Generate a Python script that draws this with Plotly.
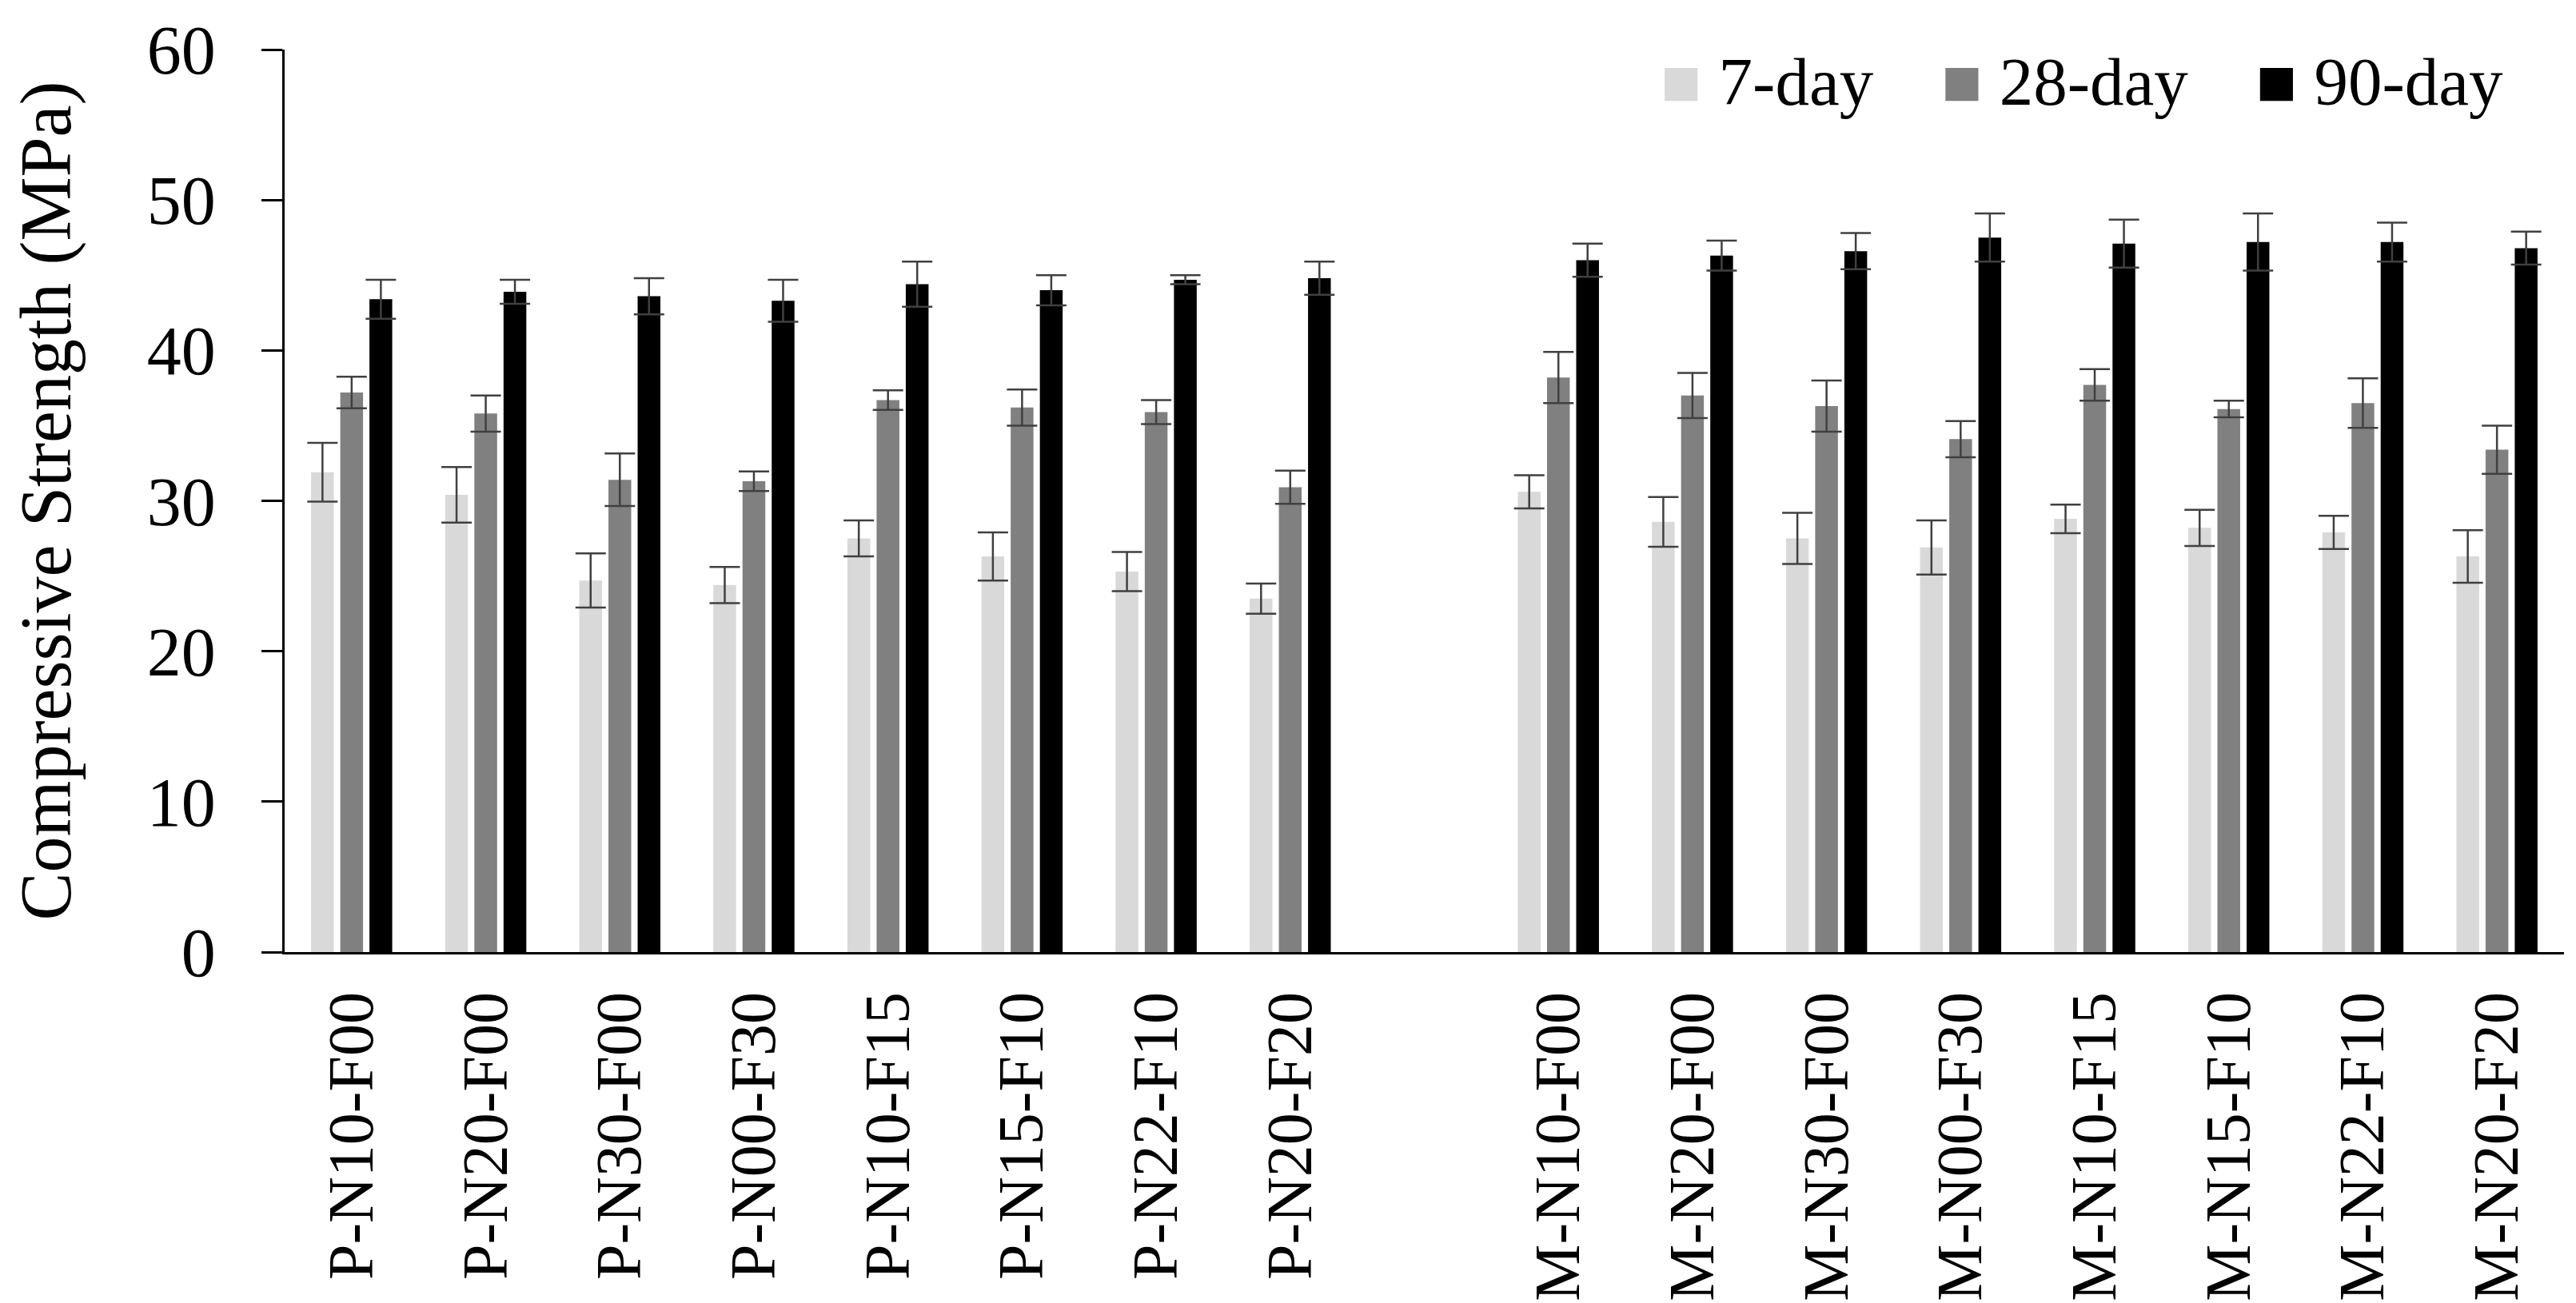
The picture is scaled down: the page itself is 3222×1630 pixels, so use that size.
import plotly.graph_objects as go

# ── Mix labels (P = one series of mixes, M = the other) ──
mixes_p = ["P-N10-F00", "P-N20-F00", "P-N30-F00", "P-N00-F30",
           "P-N10-F15", "P-N15-F10", "P-N22-F10", "P-N20-F20"]
mixes_m = ["M-N10-F00", "M-N20-F00", "M-N30-F00", "M-N00-F30",
           "M-N10-F15", "M-N15-F10", "M-N22-F10", "M-N20-F20"]
GAP = " "  # empty slot between the two groups

# ── Compressive strength (MPa) and error (±) ──
day7_p      = [31.9, 30.4, 24.7, 24.4, 27.5, 26.3, 25.3, 23.5]
day7_p_err  = [1.95, 1.85, 1.8, 1.2, 1.2, 1.6, 1.3, 1.0]
day28_p     = [37.2, 35.8, 31.4, 31.3, 36.7, 36.2, 35.9, 30.9]
day28_p_err = [1.05, 1.2, 1.75, 0.65, 0.65, 1.2, 0.8, 1.1]
day90_p     = [43.4, 43.9, 43.6, 43.3, 44.4, 44.0, 44.7, 44.8]
day90_p_err = [1.3, 0.8, 1.2, 1.4, 1.5, 1.0, 0.3, 1.1]

day7_m      = [30.6, 28.6, 27.5, 26.9, 28.8, 28.2, 27.9, 26.3]
day7_m_err  = [1.1, 1.65, 1.7, 1.8, 0.95, 1.2, 1.1, 1.75]
day28_m     = [38.2, 37.0, 36.3, 34.1, 37.7, 36.1, 36.5, 33.4]
day28_m_err = [1.7, 1.5, 1.7, 1.2, 1.05, 0.55, 1.65, 1.6]
day90_m     = [46.0, 46.3, 46.6, 47.5, 47.1, 47.2, 47.2, 46.8]
day90_m_err = [1.1, 1.0, 1.2, 1.6, 1.6, 1.9, 1.3, 1.1]

ages   = ["7-day", "28-day", "90-day"]
colors = ["#d9d9d9", "#808080", "#000000"]

FONT = "Palatino Linotype, Book Antiqua, Palatino, Liberation Serif, serif"

categories = mixes_p + [GAP] + mixes_m
series = [
  (day7_p + [None] + day7_m,   day7_p_err + [None] + day7_m_err),
  (day28_p + [None] + day28_m, day28_p_err + [None] + day28_m_err),
  (day90_p + [None] + day90_m, day90_p_err + [None] + day90_m_err),
]

fig = go.Figure()
for name, color, (vals, errs) in zip(ages, colors, series):
  fig.add_trace(go.Bar(
    x=categories,
    y=vals,
    name=name,
    marker=dict(color=color, line=dict(width=0)),
    error_y=dict(type="data", array=errs, visible=True,
                 color="#404040", thickness=2.5, width=19),
    showlegend=False,
  ))

# legend drawn as text with coloured squares (large swatches like the original)
legend_text = "&nbsp;&nbsp;&nbsp;&nbsp;".join(
  f"<span style='color:{c}'>■</span> {a}" for a, c in zip(ages, colors)
)
fig.add_annotation(
  text=legend_text, xref="paper", yref="paper",
  x=0.974, y=0.965, xanchor="right", yanchor="middle",
  showarrow=False, font=dict(family=FONT, size=85, color="black"),
)

fig.update_layout(
  width=3222, height=1630,
  barmode="group", bargap=0.347, bargroupgap=0.22,
  plot_bgcolor="white", paper_bgcolor="white",
  margin=dict(l=348, r=23, t=54, b=447),
  font=dict(family=FONT, color="black"),
  xaxis=dict(
    type="category",
    categoryorder="array", categoryarray=categories,
    tickangle=-90,
    tickfont=dict(family=FONT, size=80, color="black"),
    showline=True, linecolor="black", linewidth=3,
    ticks="", showgrid=False, zeroline=False,
    ticklabelstandoff=15,
    automargin=False,
  ),
  yaxis=dict(
    range=[0, 60], dtick=10,
    title=dict(text="Compressive Strength (MPa)",
               font=dict(family=FONT, size=90, color="black"),
               standoff=72),
    tickfont=dict(family=FONT, size=86, color="black"),
    showline=True, linecolor="black", linewidth=3,
    ticks="outside", ticklen=26, tickwidth=3, tickcolor="black",
    ticklabelstandoff=40,
    showgrid=False, zeroline=False,
    automargin=False,
  ),
)

fig.write_html("out.html")
